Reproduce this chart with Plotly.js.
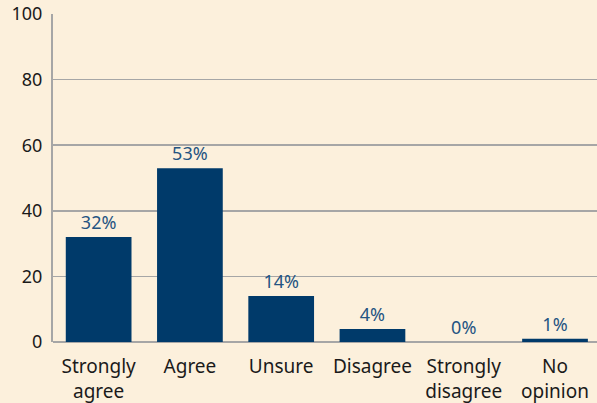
<!DOCTYPE html>
<html><head><meta charset="utf-8">
<script src="https://cdn.plot.ly/plotly-3.0.1.min.js"></script>
<style>html,body{margin:0;padding:0;background:#fcf0dc;}</style>
</head><body><div id="chart" style="width:597px;height:403px;"></div>
<script>
const categories = ["Strongly<br>agree", "Agree", "Unsure", "Disagree", "Strongly<br>disagree", "No<br>opinion"];
const values = [32, 53, 14, 4, 0, 1];
const labels = ["32%", "53%", "14%", "4%", "0%", "1%"];
const yTicks = [0, 20, 40, 60, 80, 100];

const font = "Noto Sans, sans-serif";
Plotly.newPlot("chart", [{
  type: "bar",
  x: categories,
  y: values,
  text: labels,
  textposition: "outside",
  constraintext: "none",
  cliponaxis: false,
  textfont: {family: font, size: 18, color: "#245482"},
  marker: {color: "#003a6a"},
  hoverinfo: "none"
}], {
  width: 597, height: 403,
  margin: {l: 53, r: 0, t: 14, b: 61},
  paper_bgcolor: "#fcf0dc",
  plot_bgcolor: "#fcf0dc",
  bargap: 0.28,
  showlegend: false,
  xaxis: {
    range: [-0.5, 5.46],
    showgrid: false,
    showline: false,
    tickfont: {family: font, size: 19, color: "#1a1a1a"},
    ticks: "outside", ticklen: 7, tickcolor: "rgba(0,0,0,0)",
    fixedrange: true
  },
  yaxis: {
    range: [0, 100],
    tickvals: yTicks,
    showgrid: true,
    gridcolor: "#a6a6a6",
    gridwidth: 1.5,
    showline: true,
    linecolor: "#a6a6a6",
    linewidth: 2,
    zeroline: true,
    zerolinecolor: "#a6a6a6",
    zerolinewidth: 2,
    tickfont: {family: font, size: 18, color: "#1a1a1a"},
    ticks: "outside", ticklen: 5, tickcolor: "rgba(0,0,0,0)",
    fixedrange: true
  }
}, {displayModeBar: false, staticPlot: true});
</script></body></html>
